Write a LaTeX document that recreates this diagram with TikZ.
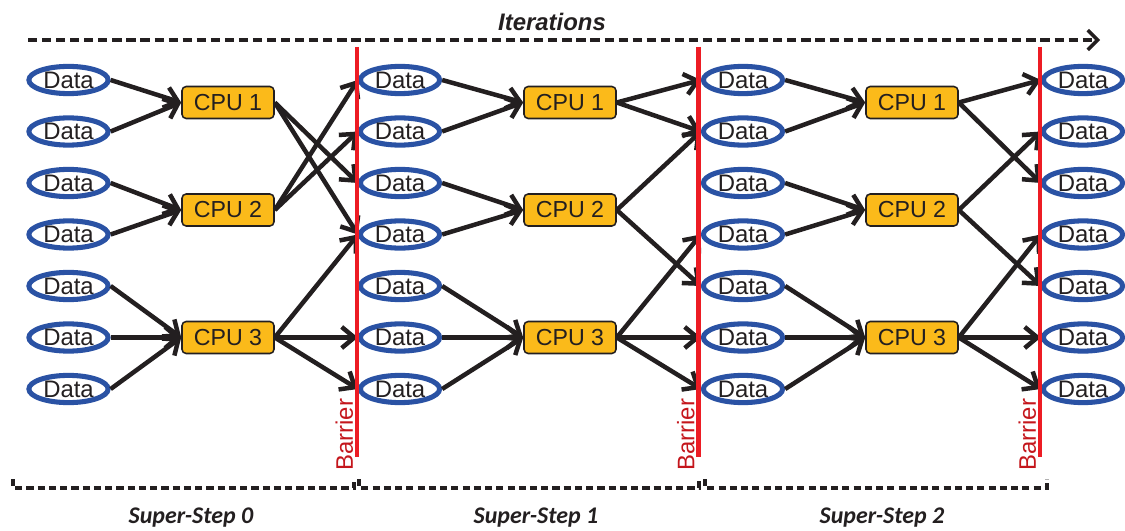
\documentclass[tikz,border=0pt]{standalone}
\usepackage{fontspec}
\setmainfont{Liberation Sans}
\newfontfamily\stepfont{Carlito}
\usepackage{xcolor}
\usepackage{tikz}
\usetikzlibrary{arrows.meta,shapes.geometric}

\definecolor{datablue}{HTML}{2A52A4}
\definecolor{cpuyellow}{HTML}{FBBA1A}
\definecolor{barred}{HTML}{ED1C24}
\definecolor{bartext}{HTML}{C4161C}
\definecolor{ink}{HTML}{231F20}

\tikzset{
    datanode/.style={ellipse, draw=datablue, fill=white, line width=3.6pt, minimum width=1.98cm, minimum height=0.68cm, inner sep=0pt, text=ink, font=\fontsize{17}{20}\selectfont},
    cpubox/.style={rectangle, rounded corners=3pt, draw=ink, fill=cpuyellow, line width=1.1pt, minimum width=2.3cm, minimum height=0.8cm, inner sep=0pt, text=ink, font=\fontsize{16.5}{20}\selectfont},
    flow/.style={draw=ink, line width=3.2pt, -{Straight Barb[length=9pt,width=15pt,line width=3.2pt]}},
    barrier/.style={draw=barred, line width=3pt},
    bracket/.style={draw=ink, line width=2.2pt, dash pattern=on 5pt off 3pt}
}

\begin{document}
\begin{tikzpicture}[x=0.025cm, y=-0.025cm]
        \useasboundingbox (0,0) rectangle (1125,531);

        % data columns and processors
        \foreach \c/\x in {0/68.5, 1/400, 2/743, 3/1083}
            \foreach \r in {1,...,7}
                \node[datanode] (d\c r\r) at (\x, {80+51.5*(\r-1)}) {Data};
        \foreach \s/\x in {0/228, 1/570, 2/912} {
            \node[cpubox] (cpu\s1) at (\x, 102.5) {CPU 1};
            \node[cpubox] (cpu\s2) at (\x, 210) {CPU 2};
            \node[cpubox] (cpu\s3) at (\x, 337.5) {CPU 3};
        }

        \foreach \s in {0,1,2}
            \foreach \r/\k in {1/1, 2/1, 3/2, 4/2, 5/3, 6/3, 7/3}
                \draw[flow] (d\s r\r.east) -- (cpu\s\k.west);

        \foreach \k/\r in {1/3, 1/4, 2/1, 2/2, 3/4, 3/6, 3/7}
            \draw[flow] (cpu0\k.east) -- (d1r\r.west);
        \foreach \k/\r in {1/1, 1/2, 2/2, 2/5, 3/4, 3/6, 3/7}
            \draw[flow] (cpu1\k.east) -- (d2r\r.west);
        \foreach \k/\r in {1/1, 1/3, 2/2, 2/5, 3/4, 3/6, 3/7}
            \draw[flow] (cpu2\k.east) -- (d3r\r.west);

        % barriers
        \foreach \x in {357, 698.5, 1040} {
            \draw[barrier] (\x, 47) -- (\x, 457);
            \node[rotate=90, anchor=south west, inner sep=0pt, text=bartext, font=\fontsize{17}{20}\selectfont] at (\x-3.5, 471) {Barrier};
        }

        \coordinate (itstart) at (28, 40);
        \coordinate (itend) at (1100, 40);
        \draw[draw=ink, line width=2.4pt, dash pattern=on 6.5pt off 3.5pt, -{Straight Barb[length=7pt,width=14pt,line width=2.4pt]}] (itstart) -- (itend);
        \node[font=\fontsize{17}{20}\selectfont\bfseries\itshape, text=ink] (iter) at (552, 22) {Iterations};

        \draw[bracket] (13, 479) -- (13, 488) -- (354, 488) -- (354, 479);
        \draw[bracket] (359, 479) -- (359, 488) -- (699, 488) -- (699, 479);
        \draw[bracket] (705, 479) -- (705, 488) -- (1047, 488) -- (1047, 479);
        \node[font=\stepfont\fontsize{17}{20}\selectfont\bfseries\itshape, text=ink] (step0) at (191, 518) {Super-Step 0};
        \node[font=\stepfont\fontsize{17}{20}\selectfont\bfseries\itshape, text=ink] (step1) at (536, 518) {Super-Step 1};
        \node[font=\stepfont\fontsize{17}{20}\selectfont\bfseries\itshape, text=ink] (step2) at (882, 518) {Super-Step 2};
    \end{tikzpicture}
\end{document}
